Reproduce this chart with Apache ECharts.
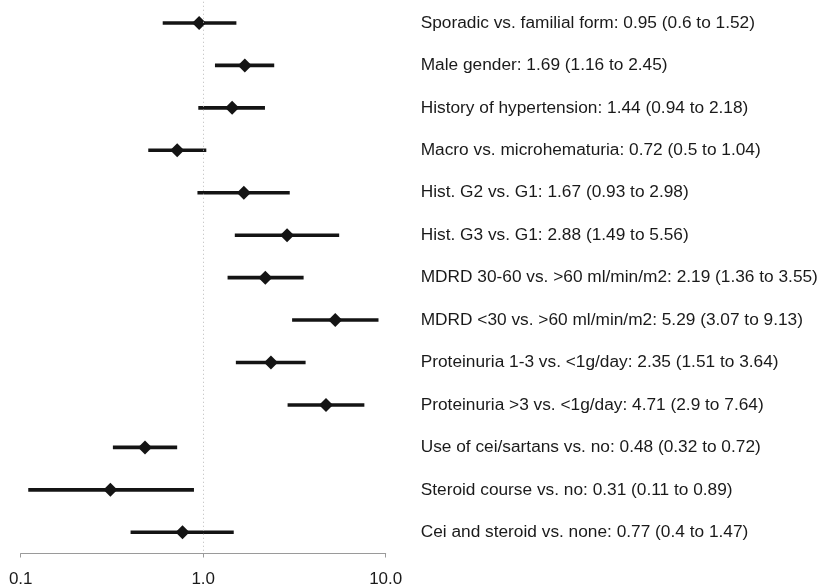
<!DOCTYPE html>
<html>
<head>
<meta charset="utf-8">
<script src="https://cdn.jsdelivr.net/npm/echarts@6/dist/echarts.min.js"></script>
<style>
  html, body { margin: 0; padding: 0; background: #fff; }
  #chart { width: 823px; height: 588px; }
</style>
</head>
<body>
<div id="chart"></div>
<script>
// rows, top to bottom
const labels = [
  'Sporadic vs. familial form',
  'Male gender',
  'History of hypertension',
  'Macro vs. microhematuria',
  'Hist. G2 vs. G1',
  'Hist. G3 vs. G1',
  'MDRD 30-60 vs. >60 ml/min/m2',
  'MDRD <30 vs. >60 ml/min/m2',
  'Proteinuria 1-3 vs. <1g/day',
  'Proteinuria >3 vs. <1g/day',
  'Use of cei/sartans vs. no',
  'Steroid course vs. no',
  'Cei and steroid vs. none'
];
const oddsRatio = [0.95, 1.69, 1.44, 0.72, 1.67, 2.88, 2.19, 5.29, 2.35, 4.71, 0.48, 0.31, 0.77];
const ciLow     = [0.6, 1.16, 0.94, 0.5, 0.93, 1.49, 1.36, 3.07, 1.51, 2.9, 0.32, 0.11, 0.4];
const ciHigh    = [1.52, 2.45, 2.18, 1.04, 2.98, 5.56, 3.55, 9.13, 3.64, 7.64, 0.72, 0.89, 1.47];
const xTicks = [0.1, 1, 10];

let myChart = echarts.init(document.getElementById('chart'));

const ciData = labels.map((l, i) => [i, ciLow[i], ciHigh[i]]);
const orData = labels.map((l, i) => [oddsRatio[i], i]);

let option = {
  animation: false,
  backgroundColor: '#ffffff',
  grid: {
    left: 20.7,
    right: 437.3,
    top: 1.75,
    bottom: 34.5
  },
  xAxis: {
    type: 'log',
    logBase: 10,
    min: xTicks[0],
    max: xTicks[xTicks.length - 1],
    axisLine: { show: true, lineStyle: { color: '#9a9a9a', width: 1 } },
    axisTick: { show: true, length: 4, lineStyle: { color: '#9a9a9a' } },
    minorTick: { show: false },
    splitLine: { show: false },
    axisLabel: {
      color: '#1a1a1a',
      fontSize: 17,
      fontFamily: 'Liberation Sans, Arial, sans-serif',
      margin: 17,
      formatter: v => Number(v).toFixed(1)
    }
  },
  yAxis: {
    type: 'category',
    inverse: true,
    position: 'right',
    data: labels,
    axisLine: { show: false },
    axisTick: { show: false },
    splitLine: { show: false },
    axisLabel: {
      margin: 35,
      align: 'left',
      color: '#1a1a1a',
      fontSize: 17.3,
      fontFamily: 'Liberation Sans, Arial, sans-serif',
      formatter: (v, i) => v + ': ' + oddsRatio[i] + ' (' + ciLow[i] + ' to ' + ciHigh[i] + ')'
    }
  },
  series: [
    {
      type: 'custom',
      data: ciData,
      encode: { x: [1, 2], y: 0 },
      renderItem: function (params, api) {
        const lo = api.coord([api.value(1), api.value(0)]);
        const hi = api.coord([api.value(2), api.value(0)]);
        return {
          type: 'line',
          shape: { x1: lo[0], y1: lo[1], x2: hi[0], y2: hi[1] },
          style: { stroke: '#141414', lineWidth: 3.6, lineCap: 'butt' }
        };
      },
      z: 2
    },
    {
      type: 'scatter',
      data: orData,
      symbol: 'diamond',
      symbolSize: [14, 14],
      itemStyle: { color: '#141414', opacity: 1 },
      z: 3,
      markLine: {
        silent: true,
        symbol: 'none',
        label: { show: false },
        lineStyle: { color: '#b8b8b8', type: [1, 3], width: 1 },
        data: [{ xAxis: 1 }]
      }
    }
  ]
};
myChart.setOption(option);
</script>
</body>
</html>
